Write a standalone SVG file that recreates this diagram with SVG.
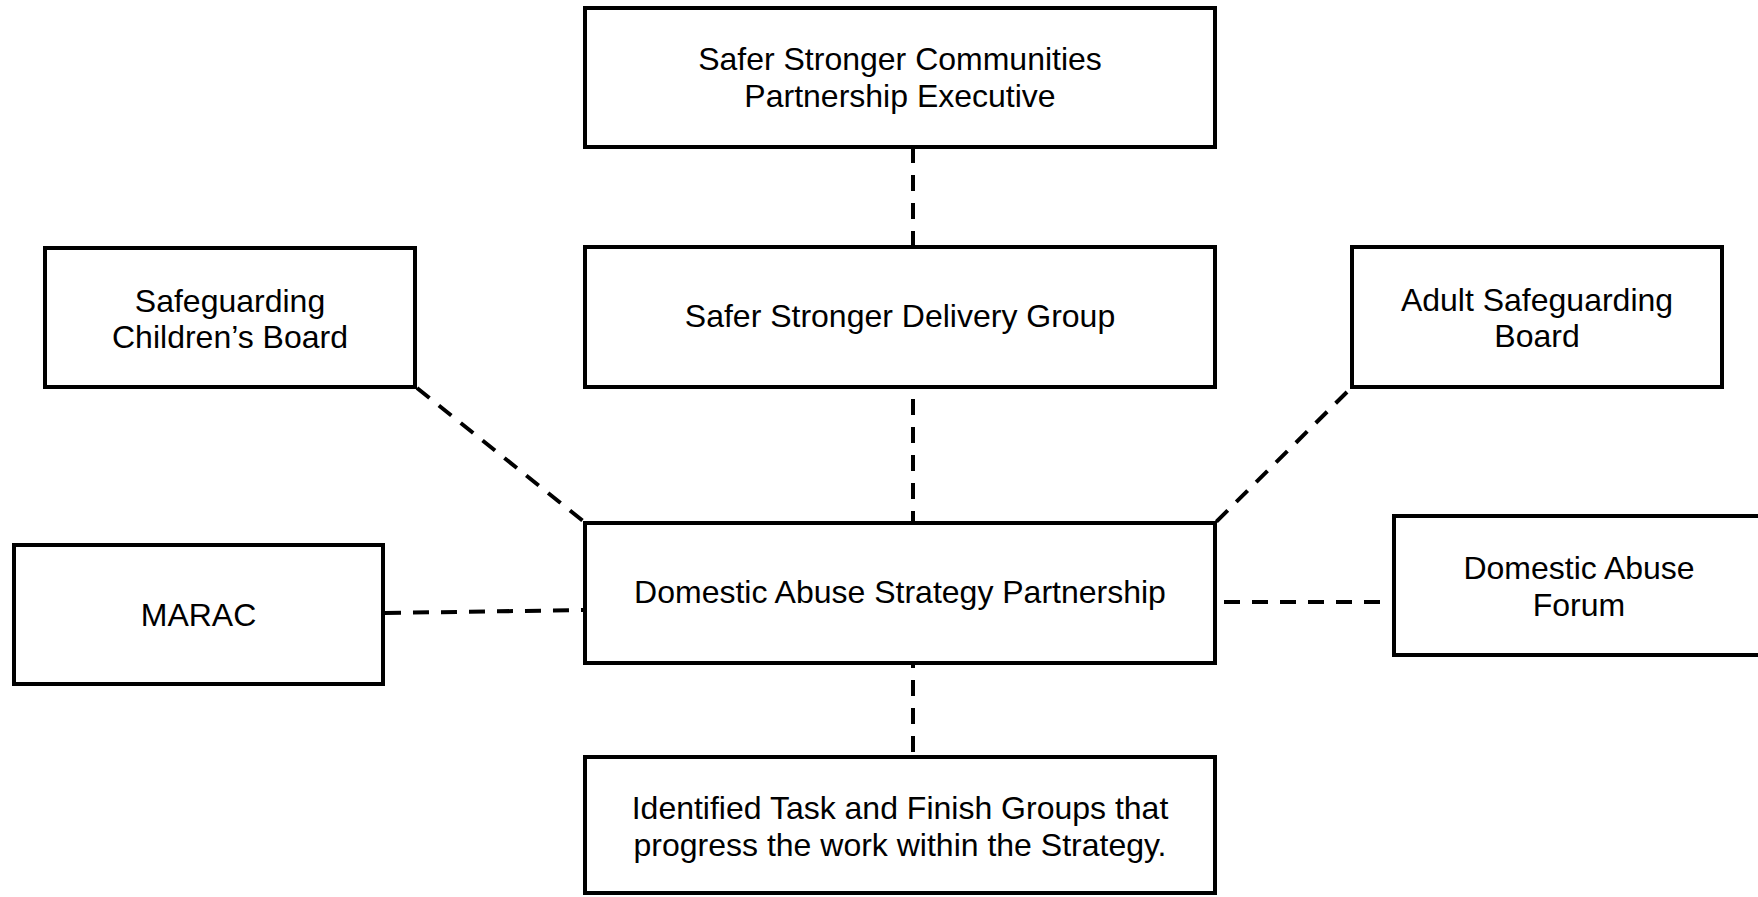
<svg xmlns="http://www.w3.org/2000/svg" width="1758" height="897" viewBox="0 0 1758 897">
  <style>
    .box { fill: #ffffff; stroke: #000000; stroke-width: 4; }
    .lbl { font-family: "Liberation Sans", Arial, sans-serif; font-size: 32px; fill: #000000; text-anchor: middle; }
    .conn { stroke: #000000; stroke-width: 4; fill: none; stroke-dasharray: 16 12; }
  </style>
  <rect width="1758" height="897" fill="#ffffff"/>
  <g id="connectors">
    <line class="conn" x1="913" y1="147" x2="913" y2="247"/>
    <line class="conn" x1="913" y1="387" x2="913" y2="523" stroke-dashoffset="16"/>
    <line class="conn" x1="913" y1="663" x2="913" y2="757" stroke-dashoffset="11"/>
    <line class="conn" x1="385" y1="613" x2="585" y2="610"/>
    <line class="conn" x1="1224" y1="602" x2="1381" y2="602"/>
    <line class="conn" x1="417" y1="388" x2="583" y2="521"/>
    <line class="conn" x1="1347" y1="392" x2="1215" y2="523"/>
  </g>
  <g id="node-sscpe">
    <rect class="box" x="585" y="8" width="630" height="139"/>
    <text class="lbl" x="900" y="70">Safer Stronger Communities</text>
    <text class="lbl" x="900" y="107">Partnership Executive</text>
  </g>
  <g id="node-ssdg">
    <rect class="box" x="585" y="247" width="630" height="140"/>
    <text class="lbl" x="900" y="327">Safer Stronger Delivery Group</text>
  </g>
  <g id="node-scb">
    <rect class="box" x="45" y="248" width="370" height="139"/>
    <text class="lbl" x="230" y="312">Safeguarding</text>
    <text class="lbl" x="230" y="348">Children’s Board</text>
  </g>
  <g id="node-asb">
    <rect class="box" x="1352" y="247" width="370" height="140"/>
    <text class="lbl" x="1537" y="311">Adult Safeguarding</text>
    <text class="lbl" x="1537" y="347">Board</text>
  </g>
  <g id="node-dasp">
    <rect class="box" x="585" y="523" width="630" height="140"/>
    <text class="lbl" x="900" y="603">Domestic Abuse Strategy Partnership</text>
  </g>
  <g id="node-marac">
    <rect class="box" x="14" y="545" width="369" height="139"/>
    <text class="lbl" x="198.5" y="626">MARAC</text>
  </g>
  <g id="node-daf">
    <rect class="box" x="1394" y="516" width="370" height="139"/>
    <text class="lbl" x="1579" y="579">Domestic Abuse</text>
    <text class="lbl" x="1579" y="616">Forum</text>
  </g>
  <g id="node-tfg">
    <rect class="box" x="585" y="757" width="630" height="136"/>
    <text class="lbl" x="900" y="819">Identified Task and Finish Groups that</text>
    <text class="lbl" x="900" y="856">progress the work within the Strategy.</text>
  </g>
</svg>
